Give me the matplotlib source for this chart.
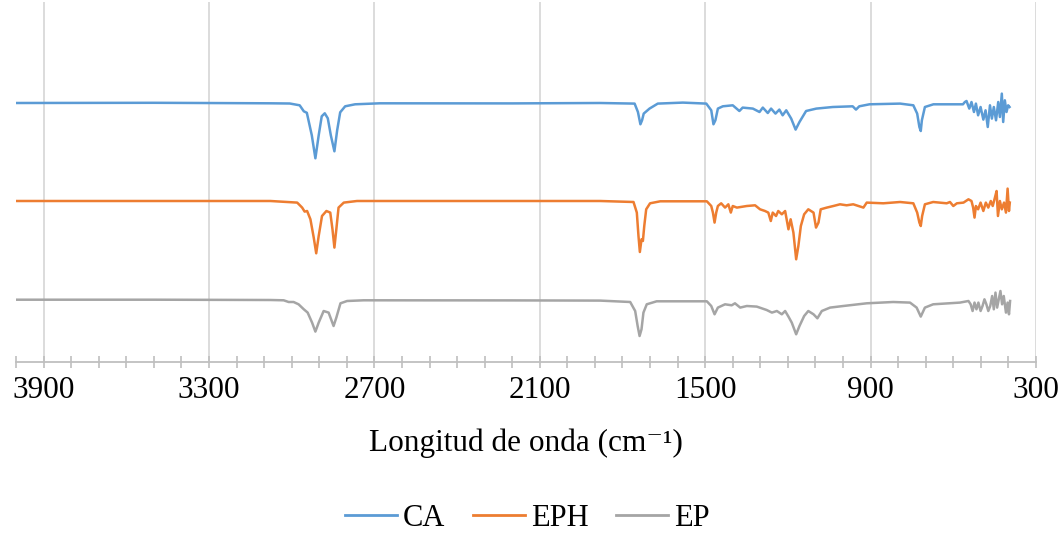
import matplotlib
matplotlib.use("Agg")
import matplotlib.pyplot as plt
from matplotlib.ticker import FixedLocator, MultipleLocator

# FTIR spectra (wavenumber in cm-1, relative transmittance, baseline ~100)
ca_wn = [4000, 3500, 3077, 3007, 2971, 2956, 2945, 2927, 2914, 2902, 2891, 2880, 2869, 2858,
         2845, 2835, 2824, 2806, 2770, 2680, 2200, 1881, 1756, 1744, 1735, 1729, 1723, 1702,
         1672, 1581, 1496, 1478, 1470, 1463, 1454, 1436, 1400, 1376, 1364, 1327, 1303, 1291,
         1273, 1261, 1245, 1231, 1219, 1206, 1188, 1172, 1158, 1134, 1097, 1037, 965, 953,
         941, 904, 793, 745, 731, 723, 718, 714, 703, 672, 565, 558, 552, 542, 534, 525, 518,
         510, 501, 491, 483, 475, 467, 460, 453, 445, 437, 431, 424, 419, 413, 407, 401, 396]
ca_t = [100, 100.2, 99.7, 99.5, 97.7, 91.7, 90.2, 67.7, 44.7, 67.7, 86.7, 89.7, 84.7, 67.7,
        51.7, 72.7, 90.7, 96.7, 98.7, 99.7, 99.6, 100, 99.4, 91, 78.7, 82.7, 89.4, 94.4,
        99.4, 100.4, 99.4, 92.7, 78.7, 82.7, 94.4, 96.7, 97.7, 92, 95.4, 94.4, 91, 95.4,
        90, 94.4, 89.4, 93.4, 87.7, 92.7, 84.4, 73.4, 81, 92, 94.4, 96, 96.7, 93.4,
        96.7, 98.7, 99.4, 97.7, 89.4, 76, 72, 82.7, 96, 98.7, 98.7, 101, 102, 94.4, 101, 91, 99.4,
        87.7, 96, 83.4, 92.7, 76, 97.7, 84.4, 96, 82.7, 101, 86, 109.4, 81, 102.7, 91, 97.7, 96]

eph_wn = [4000, 3500, 3077, 2980, 2962, 2953, 2944, 2932, 2920, 2911, 2902, 2890, 2874, 2860,
          2852, 2845, 2838, 2830, 2811, 2763, 2200, 1881, 1760, 1748, 1742, 1737, 1731, 1726,
          1721, 1714, 1700, 1663, 1494, 1478, 1472, 1466, 1460, 1454, 1442, 1428, 1416, 1407,
          1400, 1385, 1349, 1319, 1301, 1283, 1271, 1262, 1255, 1243, 1235, 1222, 1210, 1198,
          1190, 1180, 1170, 1162, 1153, 1141, 1126, 1107, 1098, 1089, 1081, 1059, 1035, 1011,
          987, 963, 926, 914, 854, 793, 745, 731, 723, 718, 713, 703, 673, 624, 612, 600, 587,
          563, 545, 534, 528, 523, 518, 510, 501, 491, 482, 473, 464, 457, 449, 443, 438, 431,
          424, 416, 409, 403, 398, 395]
eph_t = [100, 100, 100, 98.4, 93.4, 89.4, 90, 81.7, 63.4, 47.7, 65, 85, 90, 88.4,
         71.7, 53.4, 71.7, 93.4, 98.4, 100, 100, 100, 99, 88.4, 65, 49, 61.7, 60,
         75, 91.7, 97.7, 99.7, 99.7, 95, 88.4, 78.4, 88.4, 95, 97.7, 93.4, 96.7, 88.4,
         95, 93.4, 95, 95.7, 91.7, 90, 88.4, 80, 88.4, 85, 90, 86.7, 90, 71.7,
         81.7, 68.4, 41.7, 55, 75, 86.7, 91.7, 88.4, 73.4, 78.4, 91.7, 93.4, 95, 96.7,
         95.7, 96.7, 93.4, 98.4, 97.7, 99, 97.7, 88.4, 78.4, 75, 85, 96.7, 99, 97.7, 99, 95, 97.7,
         98.4, 101.7, 100, 93.4, 83.4, 95, 91.7, 98.4, 90, 98.4, 93.4, 100, 95, 103.4, 110, 85, 100,
         91.7, 98.4, 88.4, 112.4, 90, 98.4]

ep_wn = [4000, 3500, 3077, 3029, 3011, 2993, 2975, 2956, 2942, 2926, 2914, 2902, 2884, 2866,
         2848, 2838, 2823, 2799, 2739, 2200, 1881, 1772, 1754, 1745, 1738, 1731, 1724, 1712,
         1676, 1494, 1478, 1466, 1454, 1428, 1404, 1392, 1373, 1349, 1313, 1277, 1258, 1240,
         1222, 1210, 1198, 1186, 1170, 1158, 1141, 1126, 1107, 1093, 1077, 1047, 999, 914,
         818, 757, 733, 718, 703, 673, 576, 545, 537, 530, 523, 516, 509, 501, 494, 487, 480,
         473, 466, 459, 453, 447, 441, 435, 429, 423, 417, 409, 403, 398, 394]
ep_t = [100.3, 100.3, 100, 99.7, 98, 98, 95.7, 90.7, 87.4, 77.4, 68.4, 77.4, 89, 87.4,
        74, 82.4, 96.7, 99, 99.7, 99.6, 99.4, 98, 89, 74, 64, 70.7, 87.4, 95.7,
        98.7, 98.7, 94, 85.7, 92.4, 95.7, 94.7, 96.7, 92.4, 94, 93.4, 90, 87.4, 89,
        85.7, 89, 83.4, 77.4, 65.7, 74, 84, 89, 85.7, 81.7, 89, 92.4, 94, 96.7,
        98, 97.4, 92.4, 83.4, 92.4, 95.7, 97.4, 99, 95.7, 89, 97.4, 90.7, 97.4, 89, 94, 100.7, 95.7,
        89, 94, 104, 90.7, 107.4, 92.4, 100.7, 109, 95.7, 104, 87.4, 97.4, 85.7, 99]

series = [("CA", ca_wn, ca_t, "#5B9BD5"),
          ("EPH", eph_wn, eph_t, "#ED7D31"),
          ("EP", ep_wn, ep_t, "#A5A5A5")]
offsets = [159, 61, -38]  # vertical stacking of the spectra

serif = ["Liberation Serif", "DejaVu Serif"]

fig = plt.figure(figsize=(10.61, 5.33), dpi=100)
ax = fig.add_axes([16 / 1061, 171 / 533, 1020 / 1061, 360 / 533])

for (name, wn, t, color), off in zip(series, offsets):
    ax.plot(wn, [v + off for v in t], color=color, lw=1.8, label=name,
            solid_joinstyle="round")

ax.set_xlim(4000, 300)
ax.set_ylim(0, 360)

ax.xaxis.set_major_locator(FixedLocator([3900, 3300, 2700, 2100, 1500, 900, 300]))
ax.xaxis.set_minor_locator(MultipleLocator(100))
ax.grid(axis="x", which="major", color="#D9D9D9", lw=1.3)
ax.set_axisbelow(True)
ax.set_yticks([])
for s in ["left", "right", "top"]:
    ax.spines[s].set_visible(False)
ax.spines["bottom"].set_color("#BFBFBF")
ax.spines["bottom"].set_linewidth(1.3)
ax.tick_params(axis="x", which="both", direction="inout", length=8, width=1.2,
               color="#BFBFBF", pad=6)
ax.tick_params(axis="x", which="major", labelsize=22.5)
for lab in ax.get_xticklabels():
    lab.set_family(serif)

fig.text(0.496, 1 - 443 / 533, "Longitud de onda (cm\u207b\u00b9)", ha="center",
         va="center", fontsize=22.5, family=serif)

leg = fig.legend(loc="center", bbox_to_anchor=(0.497, 1 - 518 / 533), ncol=3,
                 frameon=False, prop={"family": serif, "size": 22},
                 handlelength=1.7, handletextpad=0.2, columnspacing=0.9,
                 borderpad=0.1)
for h in leg.get_lines():
    h.set_linewidth(2)

fig.savefig("out.png", dpi=100)
